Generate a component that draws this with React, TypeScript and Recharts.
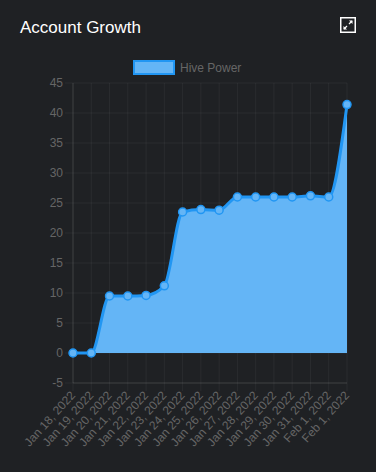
import React from "react";
import { AreaChart, Area, XAxis, YAxis, CartesianGrid } from "recharts";

const dates = [
  "Jan 18, 2022", "Jan 19, 2022", "Jan 20, 2022", "Jan 21, 2022", "Jan 22, 2022",
  "Jan 23, 2022", "Jan 24, 2022", "Jan 25, 2022", "Jan 26, 2022", "Jan 27, 2022",
  "Jan 28, 2022", "Jan 29, 2022", "Jan 30, 2022", "Jan 31, 2022", "Feb 1, 2022", "Feb 1, 2022",
];
const hivePower = [0, 0, 9.5, 9.5, 9.6, 11.2, 23.5, 23.9, 23.8, 26.0, 26.0, 26.0, 26.0, 26.2, 26.0, 41.4];
const yTicks = [-5, 0, 5, 10, 15, 20, 25, 30, 35, 40, 45];
const seriesName = "Hive Power";

const data = dates.map((d, i) => ({ date: d, value: hivePower[i] }));

const FONT = "'Liberation Sans', Arial, Helvetica, sans-serif";

const XTick = (props: any) => {
  const { x, y, payload } = props;
  return (
    <text
      x={x}
      y={y}
      transform={`rotate(-48, ${x}, ${y})`}
      textAnchor="end"
      dominantBaseline="central"
      fill="#666"
      fontSize={12}
      fontFamily={FONT}
    >
      {payload.value}
    </text>
  );
};

export default function App() {
  return (
    <div
      style={{
        position: "absolute",
        left: 0,
        top: 0,
        width: 376,
        height: 472,
        background: "#1f2124",
        fontFamily: FONT,
        overflow: "hidden",
      }}
    >
      <div
        style={{
          position: "absolute",
          left: 20,
          top: 17,
          color: "#ffffff",
          fontSize: 17,
          lineHeight: "22px",
        }}
      >
        Account Growth
      </div>
      <svg
        width={16}
        height={16}
        style={{ position: "absolute", left: 340, top: 17 }}
      >
        <rect x={0.75} y={0.75} width={14.5} height={14.5} fill="none" stroke="#fff" strokeWidth={1.5} />
        <polygon points="9,3.5 12.5,3.5 12.5,7" fill="#fff" />
        <line x1={12} y1={4} x2={9} y2={7} stroke="#fff" strokeWidth={1.2} />
        <polygon points="3.5,9 3.5,12.5 7,12.5" fill="#fff" />
        <line x1={4} y1={12} x2={7} y2={9} stroke="#fff" strokeWidth={1.2} />
      </svg>
      <div
        style={{
          position: "absolute",
          left: 133,
          top: 60,
          display: "flex",
          alignItems: "center",
        }}
      >
        <div
          style={{
            width: 38,
            height: 11,
            background: "#64b5f6",
            border: "2px solid #2196f3",
          }}
        />
        <span style={{ marginLeft: 5, color: "#666", fontSize: 12 }}>{seriesName}</span>
      </div>
      <div style={{ position: "absolute", left: 0, top: 0 }}>
        <AreaChart
          width={376}
          height={472}
          data={data}
          margin={{ top: 83, right: 29, bottom: 0, left: 33 }}
        >
          <CartesianGrid stroke="rgba(255,255,255,0.05)" vertical={true} horizontal={true} />
          <XAxis
            dataKey="date"
            interval={0}
            tick={<XTick />}
            height={89}
            axisLine={{ stroke: "rgba(255,255,255,0.1)" }}
            tickLine={{ stroke: "rgba(255,255,255,0.05)" }}
            tickSize={8}
            padding={{ left: 0, right: 0 }}
          />
          <YAxis
            type="number"
            domain={[-5, 45]}
            ticks={yTicks}
            interval={0}
            width={40}
            axisLine={{ stroke: "rgba(255,255,255,0.1)" }}
            tickLine={{ stroke: "rgba(255,255,255,0.05)" }}
            tickSize={8}
            tick={{ fill: "#666", fontSize: 12, fontFamily: FONT }}
          />
          <Area
            type="monotone"
            dataKey="value"
            name={seriesName}
            stroke="#2196f3"
            strokeWidth={3}
            fill="#64b5f6"
            fillOpacity={1}
            dot={{ r: 4, fill: "#64b5f6", stroke: "#2196f3", strokeWidth: 1.5 }}
            isAnimationActive={false}
          />
        </AreaChart>
      </div>
    </div>
  );
}
